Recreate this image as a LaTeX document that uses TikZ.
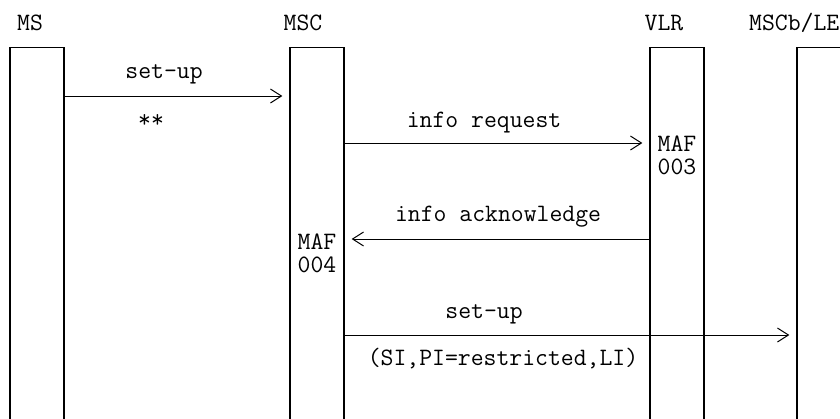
\documentclass[tikz,border=0pt]{standalone}
\usepackage{fontspec}
\usetikzlibrary{arrows.meta}
\begin{document}
\begin{tikzpicture}[x=1pt,y=-1pt,
  lifebox/.style={draw,line width=1.3pt,minimum width=54pt,minimum height=400pt,inner sep=0pt,anchor=north},
  msg/.style={line width=1pt,-{Straight Barb[length=11pt,width=14pt,line width=1pt]},shorten >=7pt},
  txt/.style={font=\ttfamily\fontsize{25}{27}\selectfont,inner sep=0pt,anchor=base},
  inbox/.style={font=\ttfamily\fontsize{25}{23}\selectfont,inner sep=0pt,align=center,anchor=base}]
\useasboundingbox (0,0) rectangle (840,418);
\clip (0,0) rectangle (840,418);
% lifelines
\node[lifebox] (ms)   at (37,47)  {};
\node[lifebox] (msc)  at (317,47) {};
\node[lifebox] (vlr)  at (677,47) {};
\node[lifebox] (mscb) at (824,47) {};
% titles
\node[txt] (tms)   at (30,30)  {MS};
\node[txt] (tmsc)  at (303,30) {MSC};
\node[txt] (tvlr)  at (664,30) {VLR};
\node[txt,anchor=base west] (tmscb) at (749,30) {MSCb/LE};
% messages
\draw[msg] (ms.east |- 0,96)   -- (msc.west |- 0,96);
\node[txt] (l1) at (164,78) {set-up};
\node[txt] (l1b) at (151,127) {**};
\draw[msg] (msc.east |- 0,143) -- (vlr.west |- 0,143);
\node[txt] (l2) at (484,127) {info request};
\draw[msg] (vlr.west |- 0,239) -- (msc.east |- 0,239);
\node[txt] (l3) at (498,221) {info acknowledge};
\draw[msg] (msc.east |- 0,335) -- (mscb.west |- 0,335);
\node[txt] (l4) at (484,318) {set-up};
\node[txt] (l4b) at (503,365) {(SI,PI=restricted,LI)};
% MAF labels
\node[inbox] (maf3) at (677,174) {MAF\\003};
\node[inbox] (maf4) at (317,272) {MAF\\004};
\end{tikzpicture}
\end{document}
